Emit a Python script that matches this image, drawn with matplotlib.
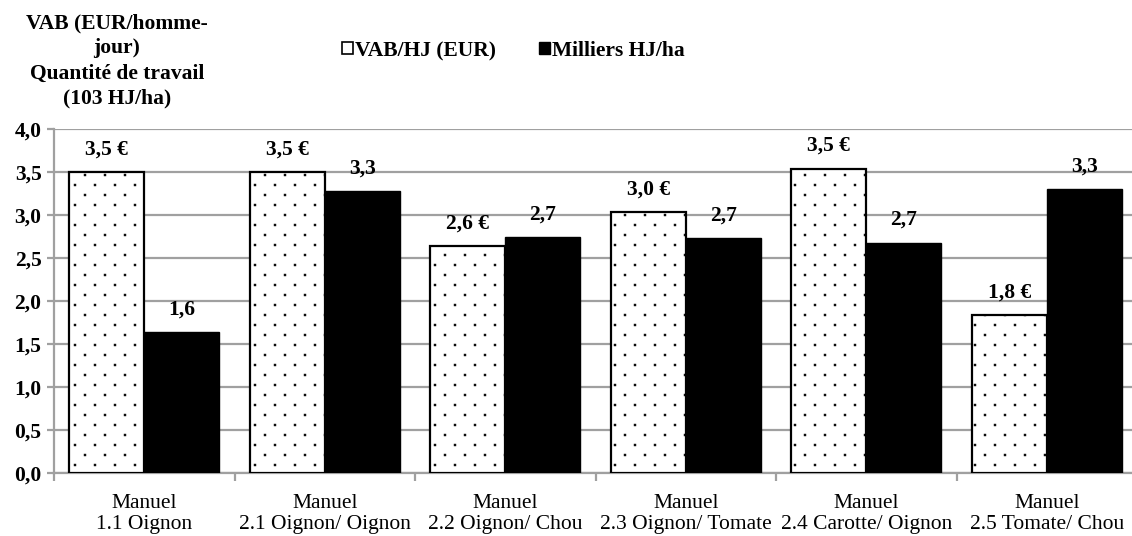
import numpy as np
import matplotlib
matplotlib.use("Agg")
import matplotlib.pyplot as plt
from matplotlib import hatch as mhatch
from matplotlib.path import Path
from matplotlib.patches import Patch

# données
categories = ["Manuel\n1.1 Oignon", "Manuel\n2.1 Oignon/ Oignon", "Manuel\n2.2 Oignon/ Chou",
              "Manuel\n2.3 Oignon/ Tomate", "Manuel\n2.4 Carotte/ Oignon", "Manuel\n2.5 Tomate/ Chou"]
vab_hj = [3.50, 3.50, 2.64, 3.03, 3.54, 1.84]
milliers_hj = [1.64, 3.28, 2.74, 2.73, 2.68, 3.30]
yticks = [0.0, 0.5, 1.0, 1.5, 2.0, 2.5, 3.0, 3.5, 4.0]


# motif "pointillé 5%" façon Excel : petits carrés en quinconce
class DotsExcel(mhatch.HatchPatternBase):
    ncols, nrows, half = 5, 10, 0.008

    def __init__(self, hatch, density):
        self.pts = []
        if hatch.count('.'):
            for j in range(self.nrows):
                y = (j + 0.5) / self.nrows
                sh = 0.5 / self.ncols if j % 2 else 0.0
                for i in range(self.ncols):
                    self.pts.append(((i + 0.25) / self.ncols + sh, y))
        self.num_vertices = len(self.pts) * 5

    def set_vertices_and_codes(self, vertices, codes):
        h = self.half
        for k, (px, py) in enumerate(self.pts):
            vertices[k * 5:k * 5 + 5] = [(px - h, py - h), (px + h, py - h), (px + h, py + h),
                                         (px - h, py + h), (px - h, py - h)]
            codes[k * 5:k * 5 + 5] = [Path.MOVETO, Path.LINETO, Path.LINETO, Path.LINETO, Path.CLOSEPOLY]


mhatch._hatch_types = [t for t in mhatch._hatch_types if t is not mhatch.SmallFilledCircles] + [DotsExcel]

plt.rcParams['font.family'] = ['Liberation Serif', 'DejaVu Serif']
plt.rcParams['hatch.linewidth'] = 0.6
plt.rcParams['hatch.color'] = 'black'

FS = 15.5

fig = plt.figure(figsize=(11.32, 5.36), dpi=100)
ax = fig.add_axes([54 / 1132, 63 / 536, 1083 / 1132, 344 / 536])

x = np.arange(len(categories))
w = 0.415
b1 = ax.bar(x - w / 2, vab_hj, w, color='white', edgecolor='black', hatch='.', linewidth=1.6, zorder=3)
b2 = ax.bar(x + w / 2, milliers_hj, w, color='black', edgecolor='black', linewidth=1.0, zorder=3)

for r, v in zip(b1, vab_hj):
    ax.annotate(f"{v:.1f} €".replace('.', ','), (r.get_x() + r.get_width() / 2, v),
                xytext=(0, 9), textcoords='offset points', ha='center', va='bottom',
                fontsize=FS, fontweight='bold')
for r, v in zip(b2, milliers_hj):
    ax.annotate(f"{v:.1f}".replace('.', ','), (r.get_x() + r.get_width() / 2, v),
                xytext=(0, 9), textcoords='offset points', ha='center', va='bottom',
                fontsize=FS, fontweight='bold')

ax.set_xlim(-0.5, len(categories) - 0.5)
ax.set_ylim(0, 4.0)
ax.set_yticks(yticks)
ax.set_yticklabels([f"{t:.1f}".replace('.', ',') for t in yticks], fontsize=FS, fontweight='bold')
ax.yaxis.grid(True, color='#a0a0a0', linewidth=1.6, zorder=0)
ax.tick_params(axis='y', length=5, width=1.6, color='#a0a0a0', pad=4)

ax.set_xticks(x)
ax.set_xticklabels(categories, fontsize=FS)
for t in ax.get_xticklabels():
    t.set_linespacing(1.12)
ax.set_xticks(np.arange(len(categories) + 1) - 0.5, minor=True)
ax.tick_params(axis='x', which='major', length=0, pad=15)
ax.tick_params(axis='x', which='minor', length=6, width=1.6, color='#a0a0a0')

for s in ['top', 'right']:
    ax.spines[s].set_visible(False)
for s in ['left', 'bottom']:
    ax.spines[s].set_color('#a0a0a0')
    ax.spines[s].set_linewidth(1.6)

fig.text(117 / 1132, 1 - 61 / 536, "VAB (EUR/homme-\njour)\nQuantité de travail\n(103 HJ/ha)",
         ha='center', va='center', fontsize=FS, fontweight='bold', linespacing=1.34)

handles = [Patch(facecolor='white', edgecolor='black', linewidth=1.2),
           Patch(facecolor='black', edgecolor='black')]
fig.legend(handles, ["VAB/HJ (EUR)", "Milliers HJ/ha"], loc='center left',
           bbox_to_anchor=(323 / 1132, 1 - 51 / 536), ncol=2, frameon=False, handlelength=0.5,
           handleheight=0.5, handletextpad=0.1, columnspacing=2.0,
           prop={'weight': 'bold', 'size': FS})

fig.savefig("out.png", dpi=100)
